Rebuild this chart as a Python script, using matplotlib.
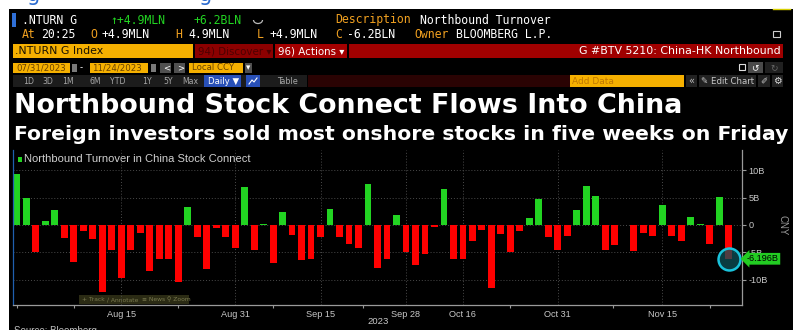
import matplotlib
matplotlib.use("Agg")
import matplotlib.pyplot as plt
from matplotlib.patches import Rectangle, Arc
from matplotlib.transforms import blended_transform_factory

# Northbound net turnover, CNY bn per trading day, 07/31/2023 - 11/24/2023
turnover = [
    9.3, 4.9, -4.9, 0.7, 2.8, -2.4, -6.7, -1.2, -2.5, -12.3,
    -4.6, -9.7, -4.5, -1.5, -8.4, -6.3, -6.3, -10.4, 3.3, -2.3,
    -8.0, -0.6, -2.3, -4.3, 6.9, -4.5, 0.1, -7.0, 2.3, -1.9,
    -6.5, -6.3, -2.3, 2.9, -2.3, -3.5, -4.2, 7.5, -7.9, -6.2,
    1.8, -4.9, -7.4, -5.3, -0.3, 6.6, -6.3, -6.3, -2.9, -1.0,
    -11.6, -1.6, -4.9, -1.2, 1.3, 4.8, -2.3, -4.6, -2.0, 2.7,
    7.1, 5.3, -4.5, -3.7, 0.0, -4.7, -1.4, -2.1, 3.7, -2.1,
    -2.9, 1.4, 0.15, -3.5, 5.1, -6.196,
]
last_label = "-6.196B"

# x ticks are bar indices (trading days)
tick_pos = [11, 23, 32, 41, 47, 57, 68]
tick_labels = ["Aug 15", "Aug 31", "Sep 15", "Sep 28", "Oct 16", "Oct 31", "Nov 15"]
minor_pos = [0, 6, 17, 27, 36.5, 52, 62.8, 73]
yticks = [10, 5, 0, -5, -10]
ytick_labels = ["10B", "5B", "0", "-5B", "-10B"]

GREEN = "#22d422"
RED = "#ff0000"
ORANGE = "#f5b000"
AMBER_TXT = "#f0a020"
GREY_TXT = "#c8c8c8"

W, H = 793, 330
fig = plt.figure(figsize=(W / 100, H / 100), dpi=100, facecolor="white")

# pixel-space layer for the terminal chrome
bg = fig.add_axes([0, 0, 1, 1])
bg.set_xlim(0, W)
bg.set_ylim(H, 0)
bg.axis("off")


def box(x0, y0, x1, y1, color, **kw):
    bg.add_patch(Rectangle((x0, y0), x1 - x0, y1 - y0, facecolor=color,
                           edgecolor="none", **kw))


def txt(x, y, s, color="white", size=8.3, family="DejaVu Sans Mono", **kw):
    bg.text(x, y, s, color=color, fontsize=size, family=family, va="center", **kw)


# page behind the terminal window
bg.text(27, -5, "g", color="#2a6ad0", fontsize=15, va="center", zorder=0.5)
bg.text(199, -5, "g", color="#2a6ad0", fontsize=15, va="center", zorder=0.5)
box(9, 9, W, H, "black")
bg.plot([773, 790], [9, 9], color="#d8d000", lw=1)

# security header
box(12, 13, 16, 27, "#2f6fd6")
txt(22, 20, ".NTURN G")
txt(110, 20, "\u2191+4.9MLN", color=GREEN)
txt(193, 20, "+6.2BLN", color=GREEN)
bg.add_patch(Arc((258, 20), 9, 7, theta1=0, theta2=180, color="#bbbbbb", lw=0.9))
txt(335, 20, "Description", color=AMBER_TXT)
txt(420, 20, "Northbound Turnover")

row2 = [(22, "At", 41, "20:25"), (90, "O", 101, "+4.9MLN"), (175, "H", 188, "4.9MLN"),
        (257, "L", 269, "+4.9MLN"), (335, "C", 347, "-6.2BLN"),
        (414, "Owner", 456, "BLOOMBERG L.P.")]
for xk, key, xv, val in row2:
    txt(xk, 35, key, color=AMBER_TXT)
    txt(xv, 35, val)
bg.add_patch(Rectangle((773, 31), 7, 6, facecolor="none", edgecolor="#cccccc", lw=0.8))

# command bar
box(13, 44, 193, 58, ORANGE)
txt(15, 51, ".NTURN G Index", color="#1a1200", size=7.9, family="DejaVu Sans")
box(195, 44, 273, 58, "#8c0000")
txt(198, 51, "94) Discover \u25be", color="#4d0000", size=7.4, family="DejaVu Sans")
box(275, 44, 347, 58, "#a50000")
txt(278, 51, "96) Actions \u25be", size=7.4, family="DejaVu Sans")
box(349, 44, 783, 58, "#a00000")
txt(781, 51, "G #BTV 5210: China-HK Northbound", size=7.9, family="DejaVu Sans", ha="right")

# date range row
sm = dict(size=6.2, family="DejaVu Sans")
box(13, 63, 70, 73, ORANGE)
txt(16, 68, "07/31/2023", color="#6a4200", **sm)
box(72, 64, 77, 72, "#7a7a7a")
txt(80, 68, "-", **sm)
box(90, 63, 148, 73, ORANGE)
txt(92, 68, "11/24/2023", color="#6a4200", **sm)
box(151, 64, 156, 72, "#7a7a7a")
box(160, 63, 171, 73, "#505050")
txt(163, 68, "<", **sm)
box(174, 63, 185, 73, "#505050")
txt(177, 68, ">", **sm)
box(189, 63, 243, 73, ORANGE)
txt(192, 68, "Local CCY", color="#6a4200", **sm)
box(245, 63, 252, 73, "#505050")
txt(246, 68, "\u25be", **sm)
bg.add_patch(Rectangle((739, 64), 6, 6, facecolor="none", edgecolor="#dddddd", lw=0.8))
box(748, 62, 763, 73, "#4a4a4a")
txt(751, 67.5, "\u21ba", size=6.5, family="DejaVu Sans")
box(765, 62, 783, 73, "#202020")
txt(770, 67.5, "\u21bb", color="#666666", size=6.5, family="DejaVu Sans")

# period / toolbar row
box(13, 75, 307, 87, "#1c1c1c")
for x, s in zip([23, 42, 62, 90, 110, 142, 163, 182],
                ["1D", "3D", "1M", "6M", "YTD", "1Y", "5Y", "Max"]):
    txt(x, 81, s, color="#a8a8a8", size=5.6, family="DejaVu Sans")
box(204, 75, 241, 87, "#2850b8")
txt(208, 81, "Daily \u25bc", size=6.2, family="DejaVu Sans")
box(246, 75, 260, 87, "#2850b8")
bg.plot([249, 252, 254, 257], [84, 80, 82, 78], color="white", lw=0.8)
txt(277, 81, "Table", color="#a8a8a8", size=5.8, family="DejaVu Sans")
box(308, 75, 570, 87, "#2a0303")
box(570, 75, 684, 87, ORANGE)
txt(572, 81, "Add Data", color="#c07800", size=6.5, family="DejaVu Sans")
box(686, 75, 697, 87, "#222222")
txt(688, 81, "\u00ab", color="#bbbbbb", size=7, family="DejaVu Sans")
box(699, 75, 756, 87, "#222222")
txt(701, 81, "\u270e Edit Chart", color="#c8c8c8", size=6.2, family="DejaVu Sans")
box(758, 75, 770, 87, "#222222")
txt(760, 81, "\u2710", color="#c8c8c8", size=6.2, family="DejaVu Sans")
box(772, 75, 783, 87, "#222222")
txt(773, 81, "\u2699", color="#dddddd", size=7, family="DejaVu Sans")

# headline
bg.text(14, 106, "Northbound Stock Connect Flows Into China", color="white",
        fontsize=19.4, fontweight="bold", family="DejaVu Sans", va="center")
bg.text(14, 134, "Foreign investors sold most onshore stocks in five weeks on Friday",
        color="white", fontsize=14.7, fontweight="bold", family="DejaVu Sans", va="center")

# legend
box(18, 157, 22, 162, GREEN)
txt(24, 159.5, "Northbound Turnover in China Stock Connect", color="#d0d0d0",
    size=8, family="Liberation Sans")

# chart toolbar
box(79, 295, 189, 304, "#2b2b14")
for x, s in zip([82, 107, 142, 167], ["+ Track", "\u2215 Annotate", "\u2261 News", "\u26b2 Zoom"]):
    txt(x, 299.5, s, color="#7a7a50", size=4.3, family=["DejaVu Sans", "Noto Sans"])

txt(378, 321, "2023", color=GREY_TXT, size=6.8, family="Liberation Sans", ha="center")
txt(783, 225, "CNY", color="#9a9a9a", size=7, family="Liberation Sans", ha="center",
    rotation=270)
txt(14, 331, "Source: Bloomberg", color="#bbbbbb", size=7, family="Liberation Sans")

# bar chart
ax = fig.add_axes([13 / W, (H - 305) / H, (742 - 13) / W, (305 - 150) / H])
ax.patch.set_alpha(0)
xs = list(range(len(turnover)))
colors = [GREEN if v >= 0 else RED for v in turnover]
ax.bar(xs, turnover, width=0.72, color=colors, zorder=2)
ax.set_xlim(-0.4, 76.4)
ax.set_ylim(-14.65, 13.7)

ax.spines["top"].set_visible(False)
ax.spines["left"].set_color("#1f5faf")
ax.spines["right"].set_color("#9a9a9a")
ax.spines["bottom"].set_color("#9a9a9a")
for s in ["left", "right", "bottom"]:
    ax.spines[s].set_linewidth(0.9)

ax.yaxis.tick_right()
ax.set_yticks(yticks, ytick_labels)
ax.tick_params(axis="y", colors="#9a9a9a", labelcolor=GREY_TXT, length=3,
               width=0.8, labelsize=6.6, pad=1.5)
ax.set_xticks(tick_pos, tick_labels)
ax.set_xticks(minor_pos, minor=True)
ax.tick_params(axis="x", which="major", length=0, labelcolor=GREY_TXT,
               labelsize=6.6, pad=3.5)
ax.tick_params(axis="x", which="minor", length=2.5, width=0.8, colors="#9a9a9a")
for lab in ax.get_xticklabels() + ax.get_yticklabels():
    lab.set_family("Liberation Sans")
ax.grid(True, which="major", color="#4a4a4a", linestyle=(0, (1, 2)), lw=0.7, zorder=0)

# highlight the latest print
ax.scatter([xs[-1]], [turnover[-1]], s=250, facecolor=(0.05, 0.33, 0.36, 0.72),
           edgecolor="#19c3dc", linewidth=1.8, zorder=4, clip_on=False)
ax.annotate(last_label, xy=(1, turnover[-1]),
            xycoords=blended_transform_factory(ax.transAxes, ax.transData),
            xytext=(3.5, 0), textcoords="offset points", va="center", ha="left",
            fontsize=6.6, family="Liberation Sans", color="black", zorder=5,
            bbox=dict(boxstyle="larrow,pad=0.15", fc="#22cc22", ec="none"))

fig.savefig("out.png", dpi=100, facecolor="white")
